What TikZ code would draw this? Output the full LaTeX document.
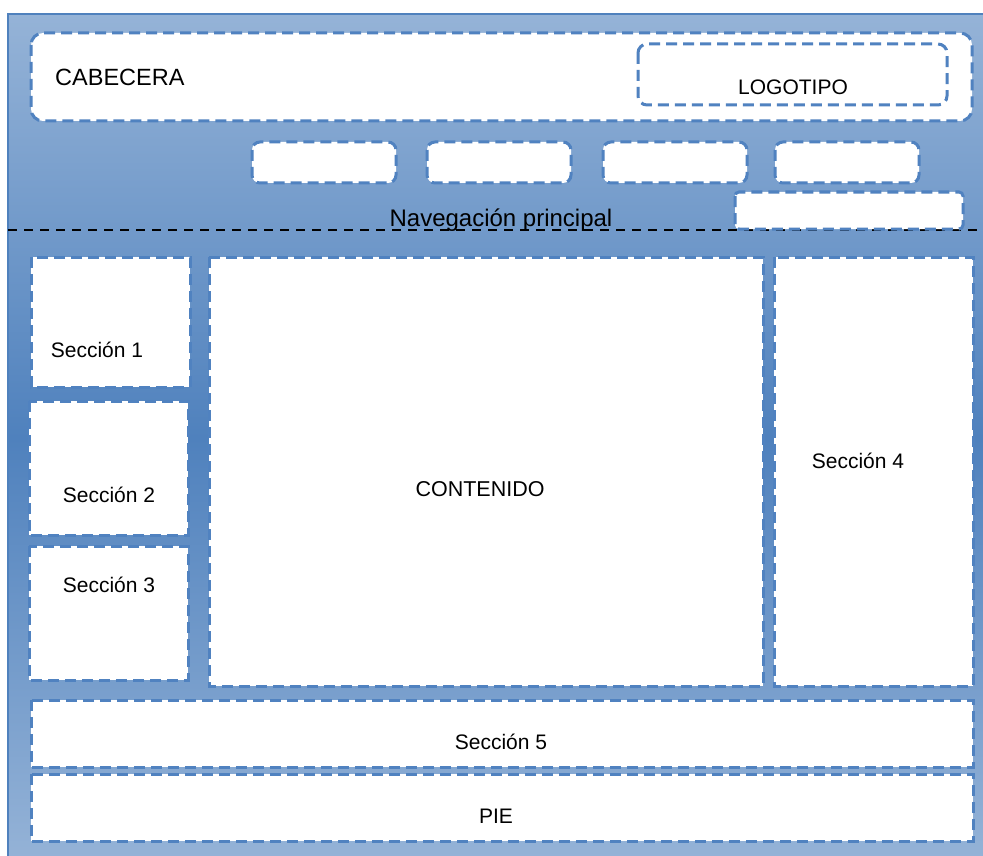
\documentclass[tikz,border=0pt]{standalone}
\usepackage{fontspec}
\setmainfont{Liberation Sans}
\usetikzlibrary{positioning}
\definecolor{cclaro}{HTML}{95B3D7}
\definecolor{cmedio}{HTML}{4F81BD}
\definecolor{cborde}{HTML}{5082C0}

\begin{document}
\begin{tikzpicture}[x=1pt,y=-1pt,
    caja/.style={draw=cborde,fill=white,line width=3pt,dash pattern=on 11pt off 6pt},
    redonda/.style={caja,rounded corners=12pt},
    boton/.style={caja,rounded corners=8pt},
    rotulo/.style={font=\fontsize{21}{25}\selectfont,inner sep=0pt}]
        \useasboundingbox (0,0) rectangle (983,856);
        % fondo degradado
        \shade[top color=cclaro,bottom color=cclaro,middle color=cmedio] (8,14) rectangle (990,862);
        \draw[cmedio,line width=1.6pt] (8,862) -- (8,14) -- (990,14);
        % cabecera
        \draw[redonda] (31,33) rectangle (972,121);
        \draw[redonda,rounded corners=9pt] (638,44) rectangle (947,105);
        % navegacion
        \foreach \x in {252,427,603,775}
          \draw[boton] (\x,142) rectangle ++(144,41);
        \draw[black,line width=2.2pt,dash pattern=on 9pt off 7pt] (8,230) -- (983,230);
        \draw[caja,rounded corners=4pt] (735,192) rectangle (963,229);
        % columnas
        \draw[caja] (31,257) rectangle (190,387);
        \draw[caja] (29,401) rectangle (188,535);
        \draw[caja] (29,546) rectangle (188,680);
        \draw[caja] (209,257) rectangle (763,686);
        \draw[caja] (774,257) rectangle (973,686);
        % franjas inferiores
        \draw[caja] (31,700) rectangle (973,767);
        \draw[caja] (31,774) rectangle (973,841);
        % textos
        \node[rotulo,font=\fontsize{23.5}{28}\selectfont,anchor=west] (cabecera) at (55,77) {CABECERA};
        \node[rotulo] (logo) at (793,87) {LOGOTIPO};
        \node[rotulo,font=\fontsize{24}{28}\selectfont,anchor=base] (nav) at (501,226) {Navegación principal};
        \node[rotulo] (sec1) at (97,350) {Sección 1};
        \node[rotulo] (sec2) at (109,495) {Sección 2};
        \node[rotulo] (sec3) at (109,585) {Sección 3};
        \node[rotulo,font=\fontsize{21.5}{25}\selectfont] (contenido) at (480,489) {CONTENIDO};
        \node[rotulo] (sec4) at (858,461) {Sección 4};
        \node[rotulo] (sec5) at (501,742) {Sección 5};
        \node[rotulo] (pie) at (496,816) {PIE};
      \end{tikzpicture}
\end{document}
